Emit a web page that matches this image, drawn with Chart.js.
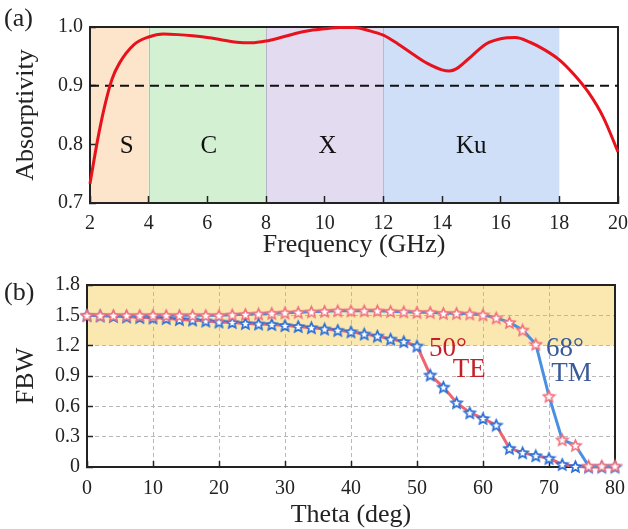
<!DOCTYPE html>
<html><head><meta charset="utf-8">
<script src="https://cdn.jsdelivr.net/npm/chart.js@4.4.1/dist/chart.umd.min.js"></script>
<style>
html,body{margin:0;padding:0;background:#fff;}
#wrap{position:relative;width:628px;height:529px;overflow:hidden;background:#fff;}
canvas{position:absolute;left:0;}
#ca{top:0;} #cb{top:264px;}
</style></head><body>
<div id="wrap"><canvas id="ca" width="628" height="264"></canvas><canvas id="cb" width="628" height="265"></canvas></div>
<script>
// ---------- Panel (a) data ----------
const freq = [2,2.25,2.5,2.75,3,3.5,4,4.5,5,5.5,6,6.5,7,7.5,8,8.5,9,9.5,10,10.5,11,11.5,12,12.5,13,13.5,14,14.25,14.5,15,15.5,16,16.5,17,17.5,18,18.5,19,19.5,20];
const absorb = [0.733,0.805,0.865,0.911,0.938,0.970,0.983,0.988,0.987,0.985,0.982,0.978,0.974,0.973,0.976,0.982,0.989,0.994,0.997,0.999,0.999,0.994,0.986,0.971,0.954,0.938,0.927,0.925,0.929,0.950,0.971,0.980,0.982,0.974,0.961,0.944,0.919,0.888,0.846,0.787];
const threshold = 0.9;
const bandNames = ['S','C','X','Ku'];
const bandStart = [2,4,8,12];
const bandEnd = [4,8,12,18];
const bandLabelX = [3.25,6.05,10.1,15.0];
const bandLabelY = 0.8;
const freqTicks = [2,4,6,8,10,12,14,16,18,20];
const absTicks = [0.7,0.8,0.9,1.0];

// ---------- Panel (b) data ----------
const theta = [0,2,4,6,8,10,12,14,16,18,20,22,24,26,28,30,32,34,36,38,40,42,44,46,48,50,52,54,56,58,60,62,64,66,68,70,72,74,76,78,80];
const fbwTM = [1.50,1.50,1.50,1.50,1.50,1.50,1.50,1.50,1.50,1.50,1.50,1.505,1.51,1.515,1.52,1.525,1.53,1.535,1.54,1.545,1.545,1.545,1.545,1.54,1.535,1.53,1.53,1.52,1.52,1.515,1.505,1.475,1.43,1.355,1.215,0.70,0.27,0.215,0.01,0.01,0.01];
const fbwTE = [1.50,1.495,1.49,1.485,1.48,1.475,1.47,1.46,1.455,1.445,1.435,1.43,1.42,1.415,1.41,1.40,1.39,1.378,1.365,1.352,1.338,1.316,1.295,1.265,1.24,1.197,0.91,0.79,0.636,0.537,0.48,0.415,0.185,0.142,0.112,0.086,0.026,0.005,0,0,0];
const fbwBand = [1.2,1.8];
const thetaTicks = [0,10,20,30,40,50,60,70,80];
const fbwTicks = [0,0.3,0.6,0.9,1.2,1.5,1.8];
const annotations = [
  {text:'50°', x:54.7, y:1.187, color:'#c41e26'},
  {text:'TE',  x:57.9, y:0.984, color:'#c41e26'},
  {text:'68°', x:72.4, y:1.187, color:'#3a5a9a'},
  {text:'TM',  x:73.4, y:0.94,  color:'#3a5a9a'}
];

// ---------- styles ----------
const SERIF = '"Liberation Serif","Times New Roman",serif';
const TXT = '#222';
const bandColors = ['#fce5cb','#d4f0d3','#e3dbf0','#cfdff8'];

function starImg(color, size, lw){
  const c = document.createElement('canvas'); c.width = c.height = size;
  const g = c.getContext('2d');
  const cx = size/2, cy = size/2 + 0.6, R = size/2 - lw, r = R*0.46;
  g.beginPath();
  for (let i=0;i<10;i++){
    const a = -Math.PI/2 + i*Math.PI/5, rr = i%2 ? r : R;
    g.lineTo(cx + rr*Math.cos(a), cy + rr*Math.sin(a));
  }
  g.closePath(); g.fillStyle = '#fff'; g.fill();
  g.lineWidth = lw; g.strokeStyle = color; g.lineJoin = 'miter'; g.stroke();
  return c;
}

function fitX(h){ return s => { s.height = h; s.paddingLeft = 0; s.paddingRight = 0; }; }
function fitY(w){ return s => { s.width = w; s.paddingTop = 0; s.paddingBottom = 0; }; }

// ---------- Chart (a) ----------
const HA = 264;
const plugA = {
  id:'plugA',
  beforeDraw(chart){
    const {ctx, chartArea:{top,bottom}, scales:{x}} = chart;
    ctx.save();
    bandNames.forEach((n,i)=>{
      const x0 = x.getPixelForValue(bandStart[i]), x1 = x.getPixelForValue(bandEnd[i]);
      ctx.fillStyle = bandColors[i]; ctx.fillRect(x0, top, x1-x0, bottom-top);
    });
    ctx.strokeStyle = 'rgba(110,110,120,0.35)'; ctx.lineWidth = 1;
    bandStart.slice(1).forEach(v=>{ const px = Math.round(x.getPixelForValue(v))+0.5; ctx.beginPath(); ctx.moveTo(px,top); ctx.lineTo(px,bottom); ctx.stroke(); });
    ctx.restore();
  },
  beforeDatasetsDraw(chart){
    const {ctx, chartArea:{left,top,right,bottom}, scales:{x,y}} = chart;
    ctx.save();
    ctx.strokeStyle = '#222'; ctx.lineWidth = 2;
    ctx.strokeRect(left, top, right-left, bottom-top);
    ctx.fillStyle = '#111'; ctx.font = '25px ' + SERIF; ctx.textAlign = 'center'; ctx.textBaseline = 'alphabetic';
    bandNames.forEach((n,i)=>{ ctx.fillText(n, x.getPixelForValue(bandLabelX[i]), y.getPixelForValue(bandLabelY) + 8.5); });
    ctx.textAlign = 'left'; ctx.textBaseline = 'middle'; ctx.font = '26px ' + SERIF; ctx.fillStyle = TXT;
    ctx.fillText('(a)', 4, 19);
    ctx.restore();
  }
};

new Chart(document.getElementById('ca'), {
  type:'line',
  data:{ datasets:[
    {data: freq.map((f,i)=>({x:f, y:absorb[i]})), borderColor:'#e8121c', borderWidth:3, pointRadius:0, cubicInterpolationMode:'monotone', fill:false, clip:false, order:0},
    {data: [{x:freqTicks[0], y:threshold},{x:freqTicks[freqTicks.length-1], y:threshold}], borderColor:'#111', borderWidth:2, borderDash:[9,6], pointRadius:0, fill:false, order:1}
  ]},
  options:{
    responsive:false, animation:false, devicePixelRatio:1,
    layout:{padding:{top:27, right:10, left:0, bottom:0}},
    plugins:{legend:{display:false}, tooltip:{enabled:false}},
    scales:{
      x: {
        type:'linear', min:2, max:20,
        afterBuildTicks: s => { s.ticks = freqTicks.map(v => ({value:v})); },
        ticks:{font:{family:SERIF,size:20}, color:TXT, maxRotation:0, autoSkip:false, padding:16, callback:v=>String(v)},
        border:{display:true, color:'#222', width:2},
        grid:{drawOnChartArea:false, drawTicks:true, tickLength:-7, tickColor:'#222', tickWidth:1.5},
        title:{display:true, text:'Frequency (GHz)', font:{family:SERIF,size:26}, color:TXT, padding:{top:0,bottom:3}},
        afterFit: fitX(HA - 203)
      },
      y: {
        type:'linear', min:0.7, max:1.0,
        afterBuildTicks: s => { s.ticks = absTicks.map(v => ({value:v})); },
        ticks:{font:{family:SERIF,size:20}, color:TXT, autoSkip:false, padding:13, callback:v=>v.toFixed(1)},
        border:{display:true, color:'#222', width:2},
        grid:{drawOnChartArea:false, drawTicks:true, tickLength:-6, tickColor:'#222', tickWidth:1.5},
        title:{display:true, text:'Absorptivity', font:{family:SERIF,size:26}, color:TXT, padding:{top:11,bottom:0}},
        afterFit: fitY(90)
      }
    }
  },
  plugins:[plugA]
});

// ---------- Chart (b) ----------
const HB = 265;
const plugB = {
  id:'plugB',
  beforeDraw(chart){
    const {ctx, chartArea:{left,right}, scales:{y}} = chart;
    const y0 = y.getPixelForValue(fbwBand[0]), y1 = y.getPixelForValue(fbwBand[1]);
    ctx.save(); ctx.fillStyle = '#fbe8b1'; ctx.fillRect(left, y1, right-left, y0-y1); ctx.restore();
  },
  beforeDatasetsDraw(chart){
    const {ctx, chartArea:{left,top,right,bottom}} = chart;
    ctx.save();
    ctx.strokeStyle = '#222'; ctx.lineWidth = 2;
    ctx.strokeRect(left, top, right-left, bottom-top);
    ctx.textAlign = 'left'; ctx.textBaseline = 'middle'; ctx.font = '26px ' + SERIF; ctx.fillStyle = TXT;
    ctx.fillText('(b)', 4, 29);
    ctx.restore();
  },
  afterDatasetsDraw(chart){
    const {ctx, scales:{x,y}} = chart;
    ctx.save(); ctx.font = '27px ' + SERIF; ctx.textAlign = 'center'; ctx.textBaseline = 'alphabetic';
    annotations.forEach(a=>{ ctx.fillStyle = a.color; ctx.fillText(a.text, x.getPixelForValue(a.x), y.getPixelForValue(a.y) + 9); });
    ctx.restore();
  }
};

const gridColorX = c => (c.tick && (c.tick.value === thetaTicks[0] || c.tick.value === thetaTicks[thetaTicks.length-1])) ? 'rgba(0,0,0,0)' : '#b8b8b8';
const gridColorY = c => (c.tick && (c.tick.value === fbwTicks[0] || c.tick.value === fbwTicks[fbwTicks.length-1])) ? 'rgba(0,0,0,0)' : '#b8b8b8';

new Chart(document.getElementById('cb'), {
  type:'line',
  data:{ datasets:[
    {label:'TM', data: theta.map((t,i)=>({x:t, y:fbwTM[i]})), borderColor:'#4a90e2', borderWidth:3, tension:0, pointStyle:starImg('#f2707c',15,1.6), pointRadius:7, fill:false, clip:false, order:0},
    {label:'TE', data: theta.map((t,i)=>({x:t, y:fbwTE[i]})), borderColor:'#f0646e', borderWidth:3, tension:0, pointStyle:starImg('#2a6fd6',15,1.7), pointRadius:7, fill:false, clip:false, order:1}
  ]},
  options:{
    responsive:false, animation:false, devicePixelRatio:1,
    layout:{padding:{top:21, right:13, left:0, bottom:0}},
    plugins:{legend:{display:false}, tooltip:{enabled:false}},
    scales:{
      x: {
        type:'linear', min:0, max:80,
        afterBuildTicks: s => { s.ticks = thetaTicks.map(v => ({value:v})); },
        ticks:{font:{family:SERIF,size:20}, color:TXT, maxRotation:0, autoSkip:false, padding:16, callback:v=>String(v)},
        border:{display:true, color:'#222', width:2, dash:[4,3]},
        grid:{drawOnChartArea:true, color:gridColorX, lineWidth:1, drawTicks:true, tickLength:-6, tickColor:'#222', tickWidth:1.5, tickBorderDash:[]},
        title:{display:true, text:'Theta (deg)', font:{family:SERIF,size:26}, color:TXT, padding:{top:0,bottom:-2}},
        afterFit: fitX(HB - 203)
      },
      y: {
        type:'linear', min:0, max:1.8,
        afterBuildTicks: s => { s.ticks = fbwTicks.map(v => ({value:v})); },
        ticks:{font:{family:SERIF,size:20}, color:TXT, autoSkip:false, padding:13, callback:v => v===0 ? '0' : v.toFixed(1)},
        border:{display:true, color:'#222', width:2, dash:[4,3]},
        grid:{drawOnChartArea:true, color:gridColorY, lineWidth:1, drawTicks:true, tickLength:-6, tickColor:'#222', tickWidth:1.5, tickBorderDash:[]},
        title:{display:true, text:'FBW', font:{family:SERIF,size:26}, color:TXT, padding:{top:11,bottom:0}},
        afterFit: fitY(87)
      }
    }
  },
  plugins:[plugB]
});
</script>
</body></html>
